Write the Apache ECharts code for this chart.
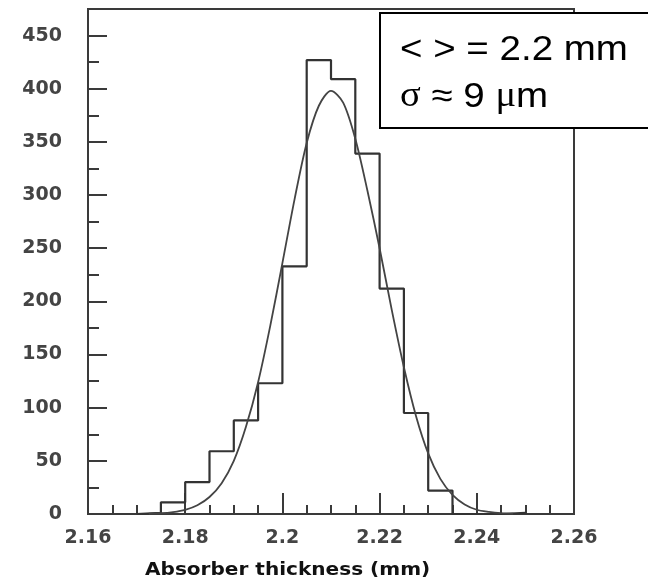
<!DOCTYPE html>
<html><head><meta charset="utf-8">
<script src="https://cdn.jsdelivr.net/npm/echarts@6/dist/echarts.min.js"></script>
<style>html,body{margin:0;padding:0;background:#fff}#c{width:648px;height:587px}</style>
</head><body><div id="c"></div>
<script>
// ---- data ----
const binEdges = [2.170, 2.175, 2.180, 2.185, 2.190, 2.195, 2.200, 2.205, 2.210, 2.215, 2.220, 2.225, 2.230, 2.235, 2.240, 2.245, 2.250];
const binCounts = [1, 11, 30, 59, 88, 123, 233, 427, 409, 339, 212, 95, 22, 0, 0, 1];
const fitX = [2.1725, 2.175, 2.1775, 2.18, 2.1825, 2.185, 2.1875, 2.19, 2.1925, 2.195, 2.1975, 2.2, 2.2025, 2.205, 2.2075, 2.21, 2.2125, 2.215, 2.2175, 2.22, 2.2225, 2.225, 2.2275, 2.23, 2.2325, 2.235, 2.2375, 2.24, 2.2425, 2.245, 2.2475];
const fitY = [0.3, 0.7, 1.8, 3.9, 8.2, 16, 29, 50, 82, 124, 177, 236, 296, 349, 384, 398, 387, 353, 304, 250, 192, 138, 92, 57, 33, 18, 9, 4, 2, 0.8, 0.3];
const xAxisRange = [2.16, 2.26];
const xTickStep = 0.02;
const yAxisRange = [0, 475];
const yTickStep = 50;
const xTitle = 'Absorber thickness (mm)';
const boxLine1 = '< > = 2.2 mm';
const boxLine2 = '{s|σ} ≈ 9 {s|μ}m';

// ---- build series data ----
const histData = [[binEdges[0], 0]];
binCounts.forEach((c, i) => histData.push([binEdges[i], c]));
histData.push([binEdges[binEdges.length - 1], binCounts[binCounts.length - 1]]);
histData.push([binEdges[binEdges.length - 1], 0]);
const fitData = fitX.map((x, i) => [x, fitY[i]]);

const axisCol = '#3a3a3a';
const labelStyle = { fontSize: 19, fontFamily: 'DejaVu Sans', fontWeight: 'bold', color: '#444' };
const chart = echarts.init(document.getElementById('c'), null, { renderer: 'canvas' });
chart.setOption({
  animation: false,
  backgroundColor: '#fff',
  grid: { left: 88, top: 9, right: 74, bottom: 73, show: true, borderColor: axisCol, borderWidth: 2, backgroundColor: 'transparent' },
  xAxis: {
    type: 'value', min: xAxisRange[0], max: xAxisRange[1], interval: xTickStep,
    axisLine: { show: true, onZero: false, lineStyle: { color: axisCol, width: 2 } },
    axisTick: { show: true, inside: true, length: 21, lineStyle: { color: axisCol, width: 2 } },
    minorTick: { show: true, splitNumber: 4, length: 9, lineStyle: { color: axisCol, width: 2 } },
    splitLine: { show: false }, minorSplitLine: { show: false },
    axisLabel: Object.assign({ margin: 15, formatter: v => String(parseFloat(v.toFixed(2))) }, labelStyle)
  },
  yAxis: {
    type: 'value', min: yAxisRange[0], max: yAxisRange[1], interval: yTickStep,
    axisLine: { show: true, onZero: false, lineStyle: { color: axisCol, width: 2 } },
    axisTick: { show: true, inside: true, length: 19, lineStyle: { color: axisCol, width: 2 } },
    minorTick: { show: true, splitNumber: 2, length: 11, lineStyle: { color: axisCol, width: 2 } },
    splitLine: { show: false }, minorSplitLine: { show: false },
    axisLabel: Object.assign({ margin: 26, showMaxLabel: false }, labelStyle)
  },
  series: [
    { type: 'line', data: histData, step: 'end', symbol: 'none', lineStyle: { color: '#333', width: 2.2 }, z: 3 },
    { type: 'line', data: fitData, smooth: 0.3, symbol: 'none', lineStyle: { color: '#444', width: 1.8 }, z: 4 }
  ],
  graphic: [
    { type: 'rect', z: 100, shape: { x: 380, y: 13, width: 300, height: 115 },
      style: { fill: '#fff', stroke: '#000', lineWidth: 2 } },
    { type: 'text', z: 101, x: 400, y: 50, scaleX: 1.1, originX: 0,
      style: { text: boxLine1, fontFamily: 'Liberation Sans', fontSize: 35, fill: '#000', verticalAlign: 'middle', align: 'left' } },
    { type: 'text', z: 101, x: 400, y: 97, scaleX: 1.1, originX: 0,
      style: { text: boxLine2, fontFamily: 'Liberation Sans', fontSize: 35, fill: '#000', verticalAlign: 'middle', align: 'left',
        rich: { s: { fontFamily: 'Liberation Serif', fontSize: 35, fill: '#000' } } } },
    { type: 'text', z: 101, x: 145, y: 571, scaleX: 1.18, originX: 0,
      style: { text: xTitle, fontFamily: 'DejaVu Sans', fontWeight: 'bold', fontSize: 17, fill: '#111', verticalAlign: 'middle', align: 'left' } }
  ]
});
</script>
</body></html>
